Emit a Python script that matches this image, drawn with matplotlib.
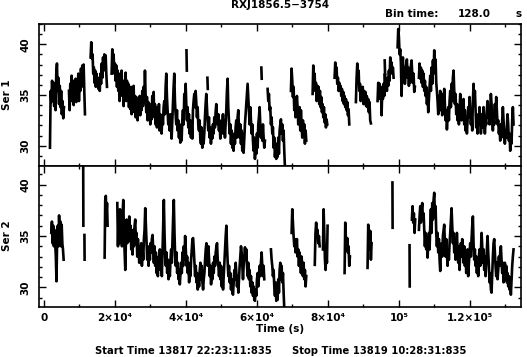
import numpy as np
import matplotlib
matplotlib.use("Agg")
import matplotlib.pyplot as plt
from matplotlib.ticker import MultipleLocator, FixedLocator, FixedFormatter

plt.rcParams['font.family'] = 'DejaVu Sans'
plt.rcParams['font.weight'] = 'bold'

# --- light curve data (counts per 128 s bin) ---
# each segment: start time (s), stop time (s), values (bins spread evenly between)

ser1_a = [29.8, 35.4, 34.3, 36.4, 34.9, 36.2, 33.9, 35.8, 33.5, 37.1, 38.1, 35.4, 36.7, 34.1, 35.9, 33.8,
          35.4, 33.1, 34.4, 32.7, 33.8]
ser1_b = [35.4, 33.5, 36.1, 34.4, 36.9, 34.9, 36.4, 34.0, 36.1, 34.6, 36.6, 34.3, 36.2, 34.8, 37.1, 34.4,
          36.7, 35.4, 37.6, 35.8, 37.9, 36.2, 38.0, 35.4, 33.1]
ser1_c = [38.7, 40.2, 38.6, 39.0, 37.1, 37.7, 36.2, 37.4, 35.8, 37.1, 36.1, 36.7, 35.6, 36.6, 35.4, 37.1,
          36.1, 38.1, 36.7, 38.7, 37.4, 39.0, 37.6, 38.9, 37.1, 35.8]
ser1_d = [37.1, 39.5, 37.7, 39.0, 37.1, 38.1, 36.4, 37.9, 35.8, 37.4,
          35.4, 37.1, 34.4, 36.7, 35.4, 37.4, 34.9, 36.4, 33.9, 36.2,
          35.1, 37.2, 34.4, 36.4, 34.8, 36.1, 33.8, 35.4, 33.6, 35.8,
          33.1, 35.3, 34.1, 35.9, 33.3, 34.9, 32.8, 34.8, 33.8, 32.5,
          34.4, 33.3, 34.9, 33.0, 34.6, 33.5, 35.4, 33.9, 35.8, 34.3,
          37.4, 34.9, 33.3, 34.8, 32.5, 34.3, 33.0, 34.1, 32.1, 33.8,
          32.6, 34.9, 33.1, 35.3, 32.8, 34.1, 32.1, 33.8, 31.8, 33.5,
          32.3, 34.1, 31.5, 33.1, 32.0, 31.2, 33.0, 32.1, 33.8, 34.4,
          33.1, 35.8, 37.1, 34.8, 33.5, 32.1, 32.8, 31.5, 33.1, 32.0,
          30.7, 32.5, 34.1, 35.8, 37.1, 34.4, 33.1, 32.1, 33.5, 31.5,
          32.5, 30.8, 32.1, 30.3, 31.5, 30.5, 32.5, 33.5, 32.1, 35.1,
          33.8, 36.1, 34.1, 32.5, 33.8, 31.8, 33.1, 31.2, 32.5, 30.8,
          32.1, 30.7, 33.5, 34.4, 35.1, 33.8, 35.4, 34.3, 32.8, 33.8,
          32.1, 31.5, 32.5, 30.8, 30.2, 31.8, 29.8, 31.2, 30.2,
          31.2, 32.8, 34.1, 35.1, 33.8, 32.5, 31.5, 32.8, 30.8, 31.8,
          30.2, 31.5, 30.7, 32.1, 31.2, 32.8, 31.8, 33.3, 34.1, 32.8,
          32.1, 33.1, 31.5, 32.5, 30.7, 31.8, 31.2, 32.1, 33.1, 31.2,
          32.5, 30.8, 32.1, 33.5, 35.4, 36.6, 33.8, 32.5, 31.2, 32.1,
          30.2, 31.5, 29.8, 30.8, 29.5, 31.2, 30.2, 31.8, 32.5, 30.8,
          32.8, 33.5, 31.8, 30.8, 32.1, 30.2, 31.5, 29.5, 31.2, 29.3,
          30.8, 32.1, 33.1, 34.1, 35.1, 36.1, 34.8, 33.5, 32.1, 33.8,
          32.5, 31.2, 32.1, 30.5, 29.5, 30.8, 28.7, 30.2, 29.2, 31.2,
          29.8, 32.1, 32.8, 33.8, 32.1, 30.8, 31.8, 30.5, 32.1, 30.8,
          29.8, 30.5]
ser1_e = [35.6, 34.4, 35.1, 33.5, 33.8, 32.1, 32.8, 31.2, 31.8, 29.8, 30.8, 28.9, 29.8, 28.7, 30.2, 28.9,
          30.8, 29.2, 31.5, 32.1, 32.6, 31.2, 32.1, 30.5, 31.5, 29.5, 27.9]
ser1_f = [35.4, 37.6, 36.4, 34.8, 35.8, 33.5, 34.3, 32.8, 34.1, 34.9, 33.8, 32.1, 33.1, 33.8, 31.5, 33.5,
          32.1, 30.8, 32.5, 31.2, 32.1, 30.2, 31.5, 30.5]
ser1_g = [35.1, 37.9, 36.1, 37.1, 35.4, 36.2, 34.4, 35.9, 34.9, 35.8, 34.1, 35.4, 33.8, 34.8, 33.3, 34.1,
          32.8, 33.8, 32.3, 33.1, 31.8, 32.6, 32.1]
ser1_h = [36.7, 38.2, 37.1, 37.7, 36.1, 36.7, 35.4, 36.2, 35.6, 35.9, 34.9, 35.6, 34.4, 35.3, 34.1, 34.9,
          33.8, 34.6, 33.5, 34.3, 33.0, 33.6, 32.1]
ser1_i = [34.3, 36.7, 38.1, 36.4, 37.4, 35.4, 36.1, 34.4, 35.6, 34.9, 35.8, 34.1, 35.4, 34.4, 35.3, 33.9,
          34.9, 33.8, 34.6, 33.3, 34.3, 32.5, 32.2]
ser1_j = [34.4, 36.2, 34.9, 36.1, 34.6, 35.8, 33.0, 35.4, 34.6, 36.1, 34.9, 37.1, 35.6, 36.4, 35.4, 36.7,
          35.9, 37.4, 36.4, 38.7, 37.6, 38.2, 37.1, 37.7, 36.7]
ser1_k = [39.7, 41.5, 40.7, 39.0, 39.5, 38.1, 34.9, 37.7, 38.7, 36.7, 37.7, 36.1, 37.2, 38.1, 38.5, 36.7,
          37.7, 35.9, 37.4, 36.2, 37.9, 38.4, 37.1, 36.2, 37.1, 35.3, 35.8]
ser1_l = [36.7, 38.1, 36.6, 37.7, 36.2, 37.4, 35.8, 37.1, 35.4, 36.4, 34.9, 35.8, 34.1, 35.1, 33.3, 34.6,
          35.8, 36.9, 35.4, 37.7, 36.1, 38.4, 37.1, 39.4, 37.7, 38.5, 36.2, 35.4,
          34.4, 33.1, 34.9, 33.8, 35.4, 33.5, 34.4, 33.0, 35.1, 33.8, 35.6, 34.1, 32.5, 33.5, 31.6, 32.8,
          33.8, 32.5, 34.4, 35.4, 33.8, 36.1, 34.4, 36.7, 37.4, 35.4, 34.1, 35.1, 33.1, 34.1,
          32.5, 33.8, 32.1, 33.5, 35.1, 33.8, 32.5, 34.1, 33.1, 34.6, 32.1, 33.5, 31.5, 32.8, 31.2, 32.5,
          33.8, 32.8, 34.8, 33.5, 32.1, 33.1, 31.5, 34.4, 36.1, 34.1, 35.4, 33.5, 31.8, 32.8,
          31.2, 33.1, 32.1, 33.8, 32.5, 31.2, 32.1, 33.1, 31.8, 33.8, 32.5, 31.2, 32.5, 32.1, 33.6, 34.4,
          32.8, 33.8, 32.1, 33.5, 35.1, 34.1, 32.8, 31.5, 33.1, 32.1, 34.1, 32.8, 34.8, 33.5,
          32.1, 32.5, 31.2, 31.8, 30.5, 32.1, 30.8, 32.5, 33.8, 32.5, 31.2, 30.2, 31.5, 30.8, 32.0, 33.1,
          32.1, 30.5, 31.2, 29.5, 30.8, 30.2, 32.5, 33.8, 32.1]

ser1_segments = [
    (1690, 5630, ser1_a), (7040, 11550, ser1_b), (13140, 17750, ser1_c),
    (19060, 62260, ser1_d), (40150, 40250, [39.4, 37.4]), (46050, 46150, [36.7, 35.6]),
    (61250, 61350, [37.7, 36.6]), (63010, 67890, ser1_e), (69580, 73900, ser1_f),
    (75690, 79820, ser1_g), (81880, 86020, ser1_h), (87890, 92110, ser1_i),
    (93990, 98500, ser1_j), (96000, 96100, [38.4, 37.1]), (99630, 104510, ser1_k),
    (105640, 132300, ser1_l),
]

ser2_a = [35.3, 36.4, 34.3, 36.0, 34.0, 35.6, 34.3, 33.0, 30.6, 34.7, 36.0, 34.0, 37.0, 35.3, 36.4, 34.0,
          36.1, 34.3, 33.7, 32.7]
ser2_c = [32.9, 38.5, 38.9, 37.0, 38.2, 36.0]
ser2_d = [38.2, 34.0, 36.9, 34.3, 37.6, 35.3, 36.6, 34.0, 37.2, 38.5,
          35.3, 33.4, 31.7, 34.7, 36.6, 34.3, 36.3, 35.0, 36.9, 34.5,
          36.0, 33.7, 35.3, 33.2, 35.6, 34.0, 36.0, 36.6, 34.3, 35.3,
          33.0, 34.7, 33.7, 32.4, 34.0, 33.0, 34.3, 32.1, 33.7, 32.7,
          34.7, 35.6, 37.7, 36.0, 34.3, 32.7, 34.0, 32.1, 33.7, 32.7,
          34.3, 33.4, 34.7, 35.1, 33.7, 32.4, 34.0, 32.1, 33.4, 31.4,
          32.7, 31.1, 33.0, 32.1, 33.7, 31.7, 32.7, 31.1, 33.7, 36.0,
          38.5, 35.3, 33.0, 32.1, 33.4, 31.4, 32.7, 30.8, 32.1, 31.1,
          32.7, 33.7, 32.4, 34.7, 36.9, 38.5, 35.3, 33.0, 32.1, 33.4,
          31.4, 32.4, 30.8, 31.7, 30.3, 31.4, 32.4, 31.4, 33.4, 32.1,
          34.0, 32.7, 35.0, 33.7, 32.1, 33.0, 31.4, 32.4, 30.5, 31.7,
          31.1, 32.7, 33.7, 34.7, 34.8, 33.7, 32.4, 31.1, 32.1, 30.5,
          31.4, 29.8, 31.1, 30.1, 31.7, 32.4, 30.8, 32.1, 30.5, 29.8,
          30.8,
          31.4, 32.7, 33.7, 34.3, 33.0, 32.1, 34.0, 32.7, 31.1, 32.1,
          30.3, 31.4, 30.8, 32.4, 31.4, 33.0, 32.1, 33.4, 34.0, 34.3,
          32.7, 32.1, 31.1, 32.4, 30.8, 32.1, 30.1, 31.4, 29.8, 31.1,
          32.4, 33.7, 35.0, 36.0, 34.0, 32.4, 31.1, 32.1, 30.5, 31.4,
          29.8, 30.8, 29.5, 29.3, 30.5, 31.7, 30.8, 32.4, 31.4, 30.1,
          31.1, 29.5, 30.8, 32.1, 33.0, 34.0, 33.4, 32.1, 30.8, 32.1,
          33.0, 33.9, 32.7, 33.7, 32.1, 31.1, 32.4, 30.8, 31.7, 30.1,
          31.1, 29.5, 30.5, 29.2, 30.1, 28.8, 28.7, 29.8, 29.2, 30.8,
          31.4, 30.1, 31.1, 32.1, 31.1, 32.4, 33.4, 32.1, 31.1, 32.1,
          30.8]
ser2_e = [33.7, 32.7, 32.1, 31.1, 31.7, 30.1, 29.2, 30.5, 28.7, 29.8, 28.8, 30.8, 29.5, 31.7, 32.4, 30.8,
          32.1, 30.5, 31.4, 29.5, 27.9]
ser2_f = [35.3, 37.6, 36.3, 35.0, 34.0, 34.7, 33.4, 34.0, 34.7, 33.0, 33.7, 32.1, 33.4, 32.7, 31.4, 33.0,
          32.1, 31.1, 32.4, 30.8, 31.7, 30.1, 31.1]
ser2_g = [32.2, 35.3, 36.3, 35.0, 35.6, 34.3, 35.0, 34.0]
ser2_h = [33.7, 37.6, 35.3, 32.7, 31.7, 33.4, 32.4, 36.0]
ser2_i = [31.4, 36.3, 34.7, 33.7, 34.8, 33.4, 34.0, 32.1, 33.0]
ser2_j = [31.9, 36.1, 34.7, 33.7, 35.5, 32.7, 34.3]
ser2_m = [36.6, 37.9, 36.3, 37.2, 35.3, 36.6]
ser2_n = [35.6, 36.9, 37.9, 36.3, 37.6, 38.2, 36.6, 37.2,
          35.6, 34.0, 35.3, 33.7, 34.7, 32.9, 34.3, 35.3, 33.7, 36.0,
          37.6, 35.3, 38.2, 36.6, 38.5, 39.2, 36.9, 37.9, 35.3, 34.0,
          35.3, 33.4, 34.7, 32.7, 31.6, 33.4, 34.3, 33.0, 35.0, 35.6,
          36.1, 34.3, 33.0, 34.7, 33.4, 32.1, 33.7, 32.7, 34.3, 35.3,
          36.6, 37.7, 36.0, 34.3, 35.3, 33.4, 34.7, 32.7, 34.0, 35.3,
          33.7, 32.4, 34.0, 31.7, 33.4, 34.3, 33.0, 34.7, 33.7, 32.4,
          34.0, 32.1, 33.4, 31.4, 32.7, 33.7, 31.1, 32.4, 33.4, 34.3,
          33.0, 34.7, 36.0, 36.9, 34.3, 32.7, 33.7, 32.1, 33.0, 31.4,
          32.7, 31.1, 33.0, 33.7, 32.1, 33.4, 35.3, 34.0, 32.4, 33.7,
          31.7, 33.0, 31.1, 32.4, 33.7, 35.0, 33.4, 32.1, 30.5, 31.4,
          29.8, 29.5, 31.4, 33.0, 34.3, 34.7, 33.4, 32.1, 31.1, 32.4,
          30.8, 31.7, 33.0, 32.1, 33.4, 34.0, 32.7, 31.4, 32.4, 30.5,
          31.4, 32.4, 30.8, 32.1, 30.5, 31.4, 30.1, 31.1, 29.8, 30.5,
          29.3, 30.8, 32.1, 33.0, 33.7]

ser2_segments = [
    (2060, 5540, ser2_a), (11050, 11100, [42.5, 36.0]), (11400, 11450, [35.1, 32.7]),
    (17090, 17930, ser2_c), (20660, 62070, ser2_d), (63950, 67710, ser2_e),
    (69770, 73900, ser2_f), (76300, 77670, ser2_g), (78600, 79910, ser2_h),
    (84700, 86200, ser2_i), (91170, 92300, ser2_j), (98180, 98230, [40.2, 35.8]),
    (103000, 103050, [34.1, 30.1]), (103660, 104600, ser2_m), (105640, 132300, ser2_n),
]

x_ticks = [0, 20000, 40000, 60000, 80000, 100000, 120000]
x_tick_labels = ['0', '2×10⁴', '4×10⁴', '6×10⁴', '8×10⁴', '10⁵', '1.2×10⁵']
y_ticks = [30, 35, 40]

fig = plt.figure(figsize=(5.27, 3.57), dpi=100)
ax1 = fig.add_axes([0.074, 0.535, 0.9146, 0.398])
ax2 = fig.add_axes([0.074, 0.140, 0.9146, 0.395])

for ax, segs, ylim in ((ax1, ser1_segments, (28.0, 42.0)), (ax2, ser2_segments, (28.1, 41.8))):
    for t0, t1, vals in segs:
        t = np.linspace(t0, t1, len(vals))
        ax.plot(t, vals, color='black', lw=1.9)
    ax.set_xlim(-1400, 134400)
    ax.set_ylim(*ylim)
    ax.xaxis.set_major_locator(FixedLocator(x_ticks))
    ax.xaxis.set_minor_locator(MultipleLocator(10000))
    ax.yaxis.set_major_locator(FixedLocator(y_ticks))
    ax.yaxis.set_minor_locator(MultipleLocator(1))
    ax.tick_params(which='both', direction='in', top=True, right=True, width=1.0, labelsize=7.5)
    ax.tick_params(which='major', length=5, pad=4)
    ax.tick_params(axis='y', which='major', pad=6)
    ax.tick_params(which='minor', length=2.5)
    ax.set_yticklabels([str(v) for v in y_ticks], rotation=90, va='center', fontweight='bold')
    for s in ax.spines.values():
        s.set_linewidth(1.2)

ax1.set_xticklabels([])
ax2.xaxis.set_major_formatter(FixedFormatter(x_tick_labels))
for lab in ax2.get_xticklabels():
    lab.set_fontweight('bold')

fig.text(0.531, 0.986, 'RXJ1856.5−3754', ha='center', va='center', fontsize=7.5, fontweight='bold')
fig.text(0.731, 0.962, 'Bin time:', ha='left', va='center', fontsize=7.5, fontweight='bold')
fig.text(0.869, 0.962, '128.0', ha='left', va='center', fontsize=7.5, fontweight='bold')
fig.text(0.979, 0.962, 's', ha='left', va='center', fontsize=7.5, fontweight='bold')
fig.text(0.013, 0.734, 'Ser 1', rotation=90, ha='center', va='center', fontsize=7.5, fontweight='bold')
fig.text(0.013, 0.339, 'Ser 2', rotation=90, ha='center', va='center', fontsize=7.5, fontweight='bold')
fig.text(0.531, 0.079, 'Time (s)', ha='center', va='center', fontsize=7.5, fontweight='bold')
fig.text(0.180, 0.017, 'Start Time 13817 22:23:11:835', ha='left', va='center', fontsize=7.2, fontweight='bold')
fig.text(0.554, 0.017, 'Stop Time 13819 10:28:31:835', ha='left', va='center', fontsize=7.2, fontweight='bold')

fig.savefig('out.png', dpi=100)
